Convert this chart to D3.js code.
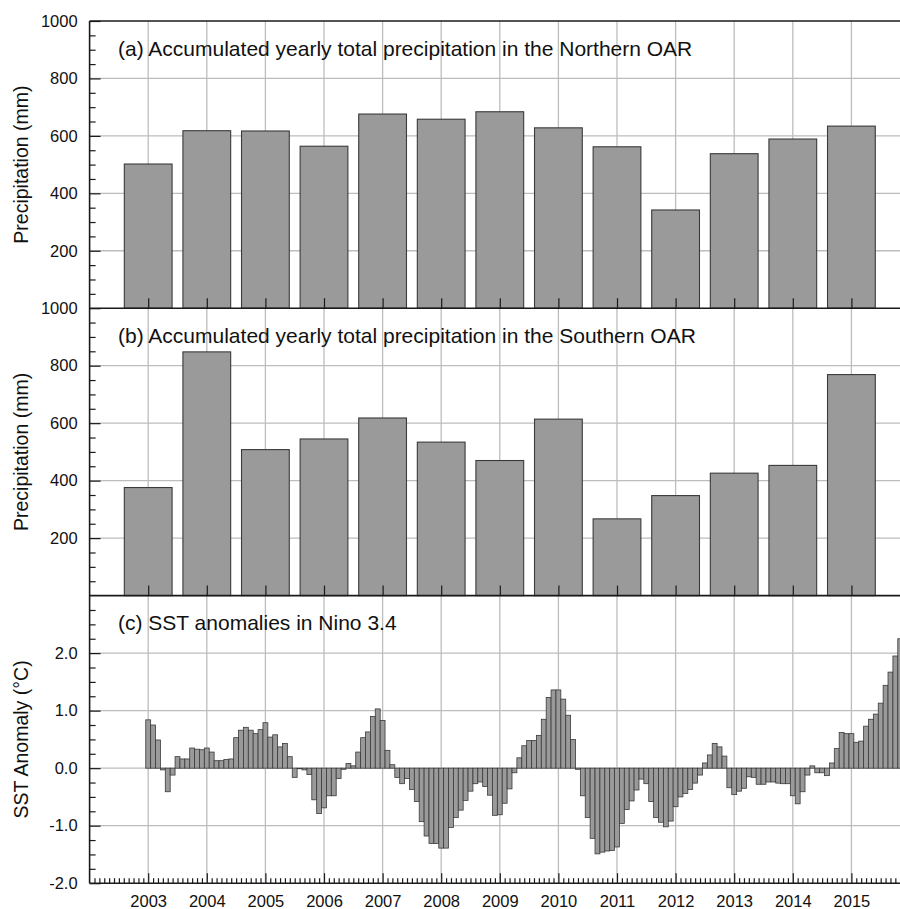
<!DOCTYPE html>
<html>
<head>
<meta charset="utf-8">
<script src="https://cdn.jsdelivr.net/npm/d3@7/dist/d3.min.js"></script>
<style>
  html, body { margin: 0; padding: 0; background: #fff; }
  svg { display: block; font-family: "Liberation Sans", Arial, Helvetica, sans-serif; }
</style>
</head>
<body>
<svg id="chart" width="900" height="909"></svg>
<script>
// ---------------- DATA ----------------
const years = [2003, 2004, 2005, 2006, 2007, 2008, 2009, 2010, 2011, 2012, 2013, 2014, 2015];
const northPrecip = [502, 618, 617, 564, 676, 658, 684, 628, 562, 342, 538, 589, 634];
const southPrecip = [376, 848, 508, 545, 618, 534, 470, 614, 267, 348, 426, 453, 769];

// Monthly Nino 3.4 SST anomalies (degC), Jan 2003 .. Dec 2015, one row per year
const sst2003 = [0.84, 0.75, 0.49, -0.03, -0.41, -0.12, 0.20, 0.16, 0.16, 0.35, 0.33, 0.32];
const sst2004 = [0.35, 0.28, 0.13, 0.13, 0.15, 0.16, 0.53, 0.66, 0.71, 0.66, 0.60, 0.67];
const sst2005 = [0.79, 0.54, 0.58, 0.37, 0.43, 0.20, -0.16, -0.01, -0.03, -0.11, -0.55, -0.79];
const sst2006 = [-0.69, -0.48, -0.48, -0.18, -0.02, 0.08, 0.04, 0.28, 0.53, 0.63, 0.90, 1.03];
const sst2007 = [0.83, 0.31, 0.06, -0.16, -0.27, -0.18, -0.37, -0.58, -0.93, -1.18, -1.31, -1.31];
const sst2008 = [-1.39, -1.39, -1.03, -0.86, -0.73, -0.56, -0.40, -0.27, -0.24, -0.32, -0.47, -0.82];
const sst2009 = [-0.81, -0.61, -0.36, -0.08, 0.18, 0.39, 0.48, 0.48, 0.57, 0.85, 1.23, 1.36];
const sst2010 = [1.36, 1.20, 0.92, 0.50, -0.02, -0.48, -0.86, -1.22, -1.49, -1.46, -1.44, -1.43];
const sst2011 = [-1.37, -0.96, -0.72, -0.57, -0.38, -0.19, -0.27, -0.58, -0.86, -0.94, -1.02, -0.92];
const sst2012 = [-0.67, -0.50, -0.44, -0.37, -0.26, -0.12, 0.09, 0.23, 0.43, 0.37, 0.21, -0.34];
const sst2013 = [-0.46, -0.40, -0.35, -0.15, -0.16, -0.28, -0.28, -0.24, -0.24, -0.26, -0.27, -0.27];
const sst2014 = [-0.48, -0.62, -0.41, -0.12, 0.04, -0.08, -0.08, -0.13, 0.09, 0.34, 0.62, 0.60];
const sst2015 = [0.60, 0.45, 0.47, 0.73, 0.85, 0.94, 1.13, 1.44, 1.67, 1.95, 2.25, 2.42];
const sstRows = [sst2003, sst2004, sst2005, sst2006, sst2007, sst2008, sst2009,
                 sst2010, sst2011, sst2012, sst2013, sst2014, sst2015];

const precipMajorTicks = [200, 400, 600, 800, 1000];
const sstMajorTicks = [-2, -1, 0, 1, 2];

const titles = [
  "(a) Accumulated yearly total precipitation in the Northern OAR",
  "(b) Accumulated yearly total precipitation in the Southern OAR",
  "(c) SST anomalies in Nino 3.4"
];
const yTitles = ["Precipitation (mm)", "Precipitation (mm)", "SST Anomaly (\u00B0C)"];

// ---------------- LAYOUT ----------------
const svg = d3.select("#chart");
const W = 900;
const xLeft = 89.6, yearStep = 58.6;
const x = d3.scaleLinear().domain([2002, 2016]).range([xLeft, xLeft + 14 * yearStep]);

const panels = [
  { top: 21,    bottom: 308.2 },
  { top: 308.2, bottom: 595.6 },
  { top: 595.6, bottom: 883.2 }
];

const yA = d3.scaleLinear().domain([0, 1000]).range([panels[0].bottom, panels[0].top]);
const yB = d3.scaleLinear().domain([0, 1000]).range([panels[1].bottom, panels[1].top]);
const yC = d3.scaleLinear().domain([-2, 3]).range([panels[2].bottom, panels[2].top]);

const gridColor = "#bdbdbd";
const barFill = "#9a9a9a";
const barStroke = "#3a3a3a";
const frameColor = "#1a1a1a";
const tickFont = "16.5px";
const titleFont = "21px";
const yTitleFont = "19.5px";

// ---------- gridlines ----------
function drawGrid(y, yVals) {
  const g = svg.append("g").attr("class", "grid");
  g.selectAll("line.v").data(years).join("line")
    .attr("x1", d => x(d)).attr("x2", d => x(d))
    .attr("y1", y.range()[1]).attr("y2", y.range()[0])
    .attr("stroke", gridColor).attr("stroke-width", 1.3);
  g.selectAll("line.h").data(yVals).join("line")
    .attr("x1", xLeft).attr("x2", W)
    .attr("y1", d => y(d)).attr("y2", d => y(d))
    .attr("stroke", gridColor).attr("stroke-width", 1.3);
}
drawGrid(yA, [200, 400, 600, 800]);
drawGrid(yB, [200, 400, 600, 800]);
drawGrid(yC, [-1, 0, 1, 2]);

// ---------- bars (a),(b) ----------
const barW = 0.815;
function drawYearBars(y, vals) {
  svg.append("g").selectAll("rect").data(years).join("rect")
    .attr("x", d => x(d - barW / 2))
    .attr("width", x(barW) - x(0))
    .attr("y", (d, i) => y(vals[i]))
    .attr("height", (d, i) => y(0) - y(vals[i]))
    .attr("fill", barFill).attr("stroke", barStroke).attr("stroke-width", 1.1);
}
drawYearBars(yA, northPrecip);
drawYearBars(yB, southPrecip);

// ---------- monthly bars (c) ----------
const monthly = [];
sstRows.forEach((row, yi) => row.forEach((v, m) => monthly.push({ t: years[yi] + m / 12, v })));
svg.append("g").selectAll("rect").data(monthly).join("rect")
  .attr("x", d => x(d.t - 1 / 24))
  .attr("width", x(1 / 12) - x(0))
  .attr("y", d => yC(Math.max(0, d.v)))
  .attr("height", d => Math.abs(yC(d.v) - yC(0)))
  .attr("fill", barFill).attr("stroke", barStroke).attr("stroke-width", 0.8);

// ---------- axes ----------
function styleAxis(g) {
  g.select(".domain").remove();
  g.selectAll(".tick line").attr("stroke", frameColor).attr("stroke-width", 1.2);
  g.selectAll(".tick text").attr("fill", "#111").style("font-size", tickFont)
    .style("font-family", '"Liberation Sans", Arial, Helvetica, sans-serif');
}
const fmtSST = d => d.toFixed(1);

// Y axis (a)
svg.append("g").attr("transform", `translate(${xLeft},0)`)
  .call(d3.axisLeft(yA).tickValues(d3.range(50, 1000, 50).filter(v => v % 200 !== 0)).tickSize(-6).tickFormat(""))
  .call(styleAxis);
svg.append("g").attr("transform", `translate(${xLeft},0)`)
  .call(d3.axisLeft(yA).tickValues(precipMajorTicks).tickSize(-11).tickPadding(12).tickFormat(d3.format("d")))
  .call(styleAxis);
// Y axis (b)
svg.append("g").attr("transform", `translate(${xLeft},0)`)
  .call(d3.axisLeft(yB).tickValues(d3.range(50, 1000, 50).filter(v => v % 200 !== 0)).tickSize(-6).tickFormat(""))
  .call(styleAxis);
svg.append("g").attr("transform", `translate(${xLeft},0)`)
  .call(d3.axisLeft(yB).tickValues(precipMajorTicks).tickSize(-11).tickPadding(12).tickFormat(d3.format("d")))
  .call(styleAxis);
// Y axis (c)
svg.append("g").attr("transform", `translate(${xLeft},0)`)
  .call(d3.axisLeft(yC).tickValues(d3.range(-1.75, 3, 0.25).filter(v => Math.abs(v - Math.round(v)) > 1e-6)).tickSize(-6).tickFormat(""))
  .call(styleAxis);
svg.append("g").attr("transform", `translate(${xLeft},0)`)
  .call(d3.axisLeft(yC).tickValues(sstMajorTicks).tickSize(-11).tickPadding(12).tickFormat(fmtSST))
  .call(styleAxis);

// X ticks (a),(b): year ticks inward only
[panels[0].bottom, panels[1].bottom].forEach(b => {
  svg.append("g").attr("transform", `translate(0,${b})`)
    .call(d3.axisBottom(x).tickValues(years).tickSize(-10).tickFormat(""))
    .call(styleAxis);
});
// X axis (c): monthly minor ticks + year ticks with labels
const monthTicks = [];
for (let yr = 2002; yr < 2016; yr++) for (let m = 1; m < 12; m++) monthTicks.push(yr + m / 12);
svg.append("g").attr("transform", `translate(0,${panels[2].bottom})`)
  .call(d3.axisBottom(x).tickValues(monthTicks).tickSize(-5).tickFormat(""))
  .call(styleAxis);
svg.append("g").attr("transform", `translate(0,${panels[2].bottom})`)
  .call(d3.axisBottom(x).tickValues(years).tickSize(-10).tickPadding(12).tickFormat(d3.format("d")))
  .call(styleAxis);

// ---------- frame ----------
const frame = svg.append("g").attr("stroke", frameColor).attr("stroke-width", 1.6);
frame.append("line").attr("x1", xLeft).attr("x2", xLeft).attr("y1", panels[0].top).attr("y2", panels[2].bottom);
[panels[0].top, panels[0].bottom, panels[1].bottom, panels[2].bottom].forEach(yy => {
  frame.append("line").attr("x1", xLeft).attr("x2", W + 20).attr("y1", yy).attr("y2", yy);
});

// ---------- titles ----------
panels.forEach((p, i) => {
  svg.append("text").attr("x", 118).attr("y", p.top + 34.5)
    .attr("fill", "#111").style("font-size", titleFont).text(titles[i]);
  svg.append("text")
    .attr("transform", `translate(28,${(p.top + p.bottom) / 2}) rotate(-90)`)
    .attr("text-anchor", "middle")
    .attr("fill", "#111").style("font-size", yTitleFont).text(yTitles[i]);
});
</script>
</body>
</html>
